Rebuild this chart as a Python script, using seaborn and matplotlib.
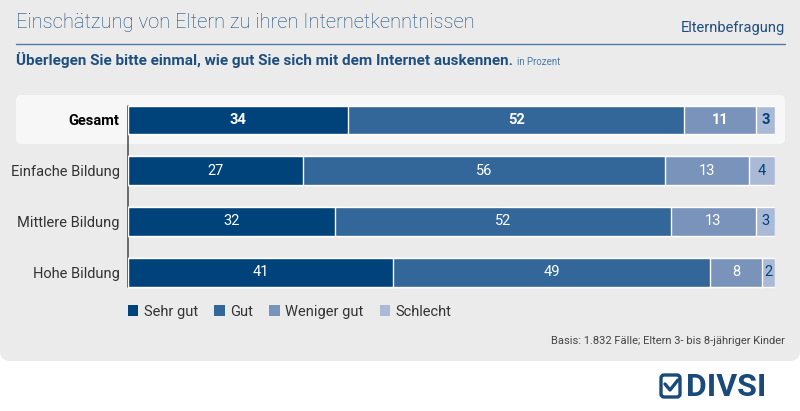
import numpy as np
import pandas as pd
import seaborn as sns
import matplotlib.pyplot as plt
from matplotlib.patches import FancyBboxPatch, Patch, Rectangle

# data
groups = ["Gesamt", "Einfache Bildung", "Mittlere Bildung", "Hohe Bildung"]
answers = ["Sehr gut", "Gut", "Weniger gut", "Schlecht"]
sehr_gut = [34, 27, 32, 41]
gut = [52, 56, 52, 49]
weniger_gut = [11, 13, 13, 8]
schlecht = [3, 4, 3, 2]

colors = ["#00427a", "#336699", "#7a93ba", "#aab9d6"]
label_colors = ["white", "white", "white", "#00427a"]
blue = "#1f4f7e"

sns.set_theme(style="white")
plt.rcParams["font.family"] = ["Roboto", "DejaVu Sans"]

W, H = 800, 411
fig = plt.figure(figsize=(8, 4.11), dpi=100)
fig.patch.set_facecolor("white")

# background layer in pixel coords
bg = fig.add_axes([0, 0, 1, 1])
bg.set_xlim(0, W)
bg.set_ylim(H, 0)
bg.axis("off")
bg.add_patch(FancyBboxPatch((0, -20), W, 381, boxstyle="round,pad=0,rounding_size=10",
                            fc="#ebebeb", ec="none"))
bg.add_patch(FancyBboxPatch((16, 95), 769, 49, boxstyle="round,pad=0,rounding_size=5",
                            fc="#f7f7f7", ec="none"))

bg.text(16, 22.5, "Einschätzung von Eltern zu ihren Internetkenntnissen", fontsize=14.5,
        color="#174878", va="center", ha="left", fontweight="light")
bg.text(785, 28, "Elternbefragung", fontsize=10.5, color=blue, va="center", ha="right")
bg.plot([16, 785], [44, 44], color="#4d7aa6", lw=1)
sub = bg.text(16, 60, "Überlegen Sie bitte einmal, wie gut Sie sich mit dem Internet auskennen.",
              fontsize=11, fontweight="bold", color=blue, va="center", ha="left")
bg.annotate("in Prozent", xy=(1, 0), xycoords=sub, xytext=(3, 1), textcoords="offset points",
            fontsize=7, color="#4d7aa6", va="bottom", ha="left")
bg.text(785, 341, "Basis: 1.832 Fälle; Eltern 3- bis 8-jähriger Kinder", fontsize=8,
        color="#444444", va="center", ha="right")

# logo
bg.add_patch(FancyBboxPatch((661, 375), 19, 22, boxstyle="round,pad=0,rounding_size=3",
                            fc="none", ec="#1a4a7a", lw=2.4))
bg.plot([665, 670, 678], [384, 390, 380], color="#1a4a7a", lw=2.4, solid_capstyle="round")
bg.text(686, 386.5, "DIVSI", fontsize=23, fontweight="bold", color="#1a4a7a",
        va="center", ha="left")

# chart axes
df = pd.DataFrame({"group": groups, "Sehr gut": sehr_gut, "Gut": gut,
                   "Weniger gut": weniger_gut, "Schlecht": schlecht})
cum = df[answers].cumsum(axis=1)

top, bottom = 94.6, 297.6
ax = fig.add_axes([128 / W, 1 - bottom / H, 647 / W, (bottom - top) / H])
ax.set_facecolor("none")
for i in reversed(range(len(answers))):
    sns.barplot(x=cum[answers[i]], y=df["group"], order=groups, color=colors[i],
                width=0.57, orient="h", ax=ax, saturation=1)

for r, g in enumerate(groups):
    for i, a in enumerate(answers):
        v = df.loc[r, a]
        xc = cum.loc[r, a] - v / 2
        ax.text(xc, r, str(v), color=label_colors[i], fontsize=10.5, ha="center", va="center",
                fontweight="bold" if r == 0 else "normal")

ax.set_xlim(0, 100)
ax.set_ylim(3.5, -0.5)
ax.plot([0, 0], [-0.28, 3.285], color="#555555", lw=1.2, clip_on=False, zorder=0)
ax.set_xlabel("")
ax.set_ylabel("")
ax.set_xticks([])
ax.set_yticks(range(len(groups)))
ax.set_yticklabels(groups, fontsize=10.5, color="#333333")
ax.get_yticklabels()[0].set_fontweight("bold")
ax.get_yticklabels()[0].set_color("black")
ax.tick_params(axis="y", length=0, pad=6)
sns.despine(ax=ax, left=True, bottom=True)

handles = [Patch(fc=c, ec="none") for c in colors]
leg = fig.legend(handles, answers, loc="center left", bbox_to_anchor=(115 / W, 1 - 311.5 / H),
                 ncol=4, frameon=False, fontsize=10.5, handlelength=0.7, handleheight=0.7,
                 handletextpad=0.4, columnspacing=1.1, labelcolor="#333333")

fig.savefig("out.png", dpi=100, facecolor="white")
